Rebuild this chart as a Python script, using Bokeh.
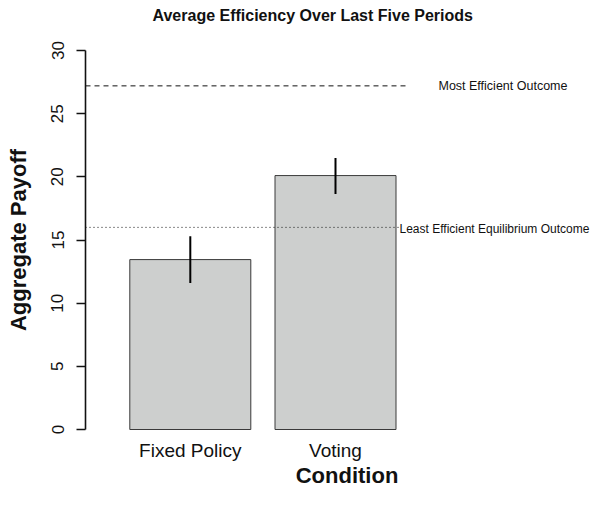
from bokeh.plotting import figure
from bokeh.models import Range1d, FixedTicker, Label, ColumnDataSource
from bokeh.embed import file_html
from bokeh.resources import INLINE
import math

# ---- data ----
conditions = ["Fixed Policy", "Voting"]
bar_left = [0.2, 1.4]
bar_right = [1.2, 2.4]
payoff = [13.45, 20.1]
err_low = [11.6, 18.65]
err_high = [15.3, 21.5]
most_efficient = 27.2
least_efficient_eq = 16.0
y_ticks = [0, 5, 10, 15, 20, 25, 30]

centers = [(a + b) / 2 for a, b in zip(bar_left, bar_right)]

# ---- layout (canvas pixels) ----
W, H = 594, 489
X0_PX, X_PER = 105.1, 121.0        # pixel of x=0, pixels per x unit
Y0_PX, Y_PER = 429.0, (429.0 - 50.0) / 30.0   # pixel of y=0, pixels per y unit

def xd(px):
    return (px - X0_PX) / X_PER

def yd(py):
    return (Y0_PX - py) / Y_PER

AXIS_X = xd(85)

p = figure(width=W, height=H, output_backend="svg", toolbar_location=None,
           x_range=Range1d(xd(0), xd(W)), y_range=Range1d(yd(H), yd(0)),
           min_border=0, min_border_left=0, min_border_right=0,
           min_border_top=0, min_border_bottom=0,
           background_fill_color="white", border_fill_color="white",
           outline_line_color=None)
p.title.visible = False
p.grid.visible = False

src = ColumnDataSource(dict(l=bar_left, r=bar_right, top=payoff,
                            bottom=[0, 0], x=centers, lo=err_low, hi=err_high))
p.quad(left="l", right="r", top="top", bottom="bottom", source=src,
       fill_color="#CDCFCE", line_color="#3a3a3a", line_width=1)
p.segment(x0="x", x1="x", y0="lo", y1="hi", source=src,
          line_color="black", line_width=2)

# reference lines
p.segment(x0=[AXIS_X], x1=[2.51], y0=[most_efficient], y1=[most_efficient],
          line_color="#111111", line_width=1, line_dash="5 4")
p.segment(x0=[AXIS_X], x1=[2.44], y0=[least_efficient_eq], y1=[least_efficient_eq],
          line_color="#111111", line_width=1, line_dash="1 3")

# y axis line from first to last tick (as R draws it)
p.segment(x0=[AXIS_X], x1=[AXIS_X], y0=[y_ticks[0]], y1=[y_ticks[-1]],
          line_color="#111111", line_width=1.6)

font = "Liberation Sans"
p.add_layout(Label(x=3.284, y=most_efficient, text="Most Efficient Outcome",
                   text_font=font, text_font_size="12.5px", text_align="center",
                   text_baseline="middle", text_color="#111111"))
p.add_layout(Label(x=xd(399), y=least_efficient_eq - 0.1,
                   text="Least Efficient Equilibrium Outcome",
                   text_font=font, text_font_size="12px", text_align="left",
                   text_baseline="middle", text_color="#111111"))

# title and axis titles
p.add_layout(Label(x=xd(152), y=yd(15), text="Average Efficiency Over Last Five Periods",
                   text_font=font, text_font_size="16px", text_font_style="bold",
                   text_align="left", text_baseline="middle", text_color="#111111"))
p.add_layout(Label(x=xd(18), y=15, text="Aggregate Payoff", angle=math.pi / 2,
                   text_font=font, text_font_size="22px", text_font_style="bold",
                   text_align="center", text_baseline="middle", text_color="#111111"))
p.add_layout(Label(x=xd(346.5), y=yd(475), text="Condition",
                   text_font=font, text_font_size="22px", text_font_style="bold",
                   text_align="center", text_baseline="middle", text_color="#111111"))

# y axis (fixed inside the canvas-wide frame)
ya = p.yaxis[0]
ya.fixed_location = AXIS_X
ya.ticker = FixedTicker(ticks=y_ticks)
ya.major_label_orientation = "vertical"
ya.major_label_text_font = font
ya.major_label_text_font_size = "17px"
ya.major_label_text_color = "#111111"
ya.major_tick_out = 9
ya.major_tick_in = 0
ya.minor_tick_out = 0
ya.minor_tick_in = 0
ya.major_label_standoff = 13
ya.axis_line_color = None
ya.major_tick_line_width = 1.6
ya.major_tick_line_color = "#111111"

# x axis
xa = p.xaxis[0]
xa.fixed_location = 0
xa.ticker = FixedTicker(ticks=centers)
xa.major_label_overrides = {c: t for c, t in zip(centers, conditions)}
xa.axis_line_color = None
xa.major_tick_line_color = None
xa.minor_tick_line_color = None
xa.major_tick_out = 0
xa.major_tick_in = 0
xa.major_label_standoff = 10
xa.major_label_text_font = font
xa.major_label_text_font_size = "19px"
xa.major_label_text_color = "#111111"

open("out.html", "w").write(file_html(p, INLINE))
